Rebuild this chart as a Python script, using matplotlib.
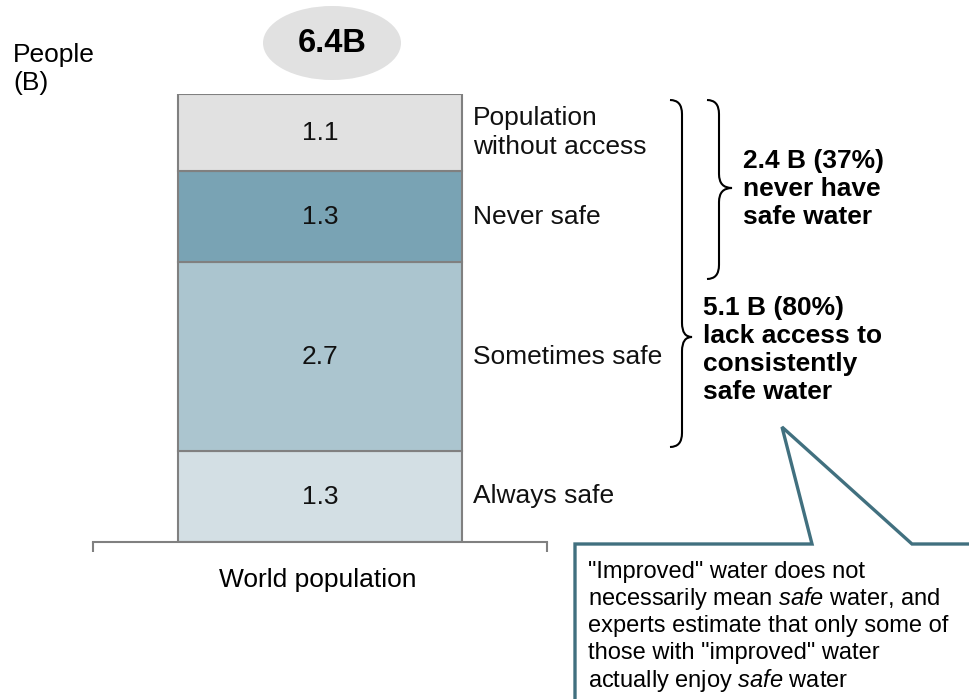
import matplotlib
matplotlib.use("Agg")
import matplotlib.pyplot as plt
from matplotlib.patches import Ellipse, Polygon, PathPatch
from matplotlib.path import Path

plt.rcParams['font.family'] = ['Liberation Sans', 'DejaVu Sans']
plt.rcParams['mathtext.fontset'] = 'custom'
plt.rcParams['mathtext.rm'] = 'Liberation Sans'
plt.rcParams['mathtext.it'] = 'Liberation Sans:italic'

# segments bottom -> top, in billions of people
segments = ["Always safe", "Sometimes safe", "Never safe", "Population\nwithout access"]
values = [1.3, 2.7, 1.3, 1.1]
colors = ["#d3dfe4", "#abc5cf", "#79a3b4", "#e1e1e1"]
total_label = "6.4B"
category = "World population"

W, H = 970, 699
fig = plt.figure(figsize=(W / 100, H / 100), dpi=100)

# main axes for the stacked bar (baseline at y=542px, top of bar at 94px)
ax = fig.add_axes([93 / W, (H - 542) / H, 454 / W, 448 / H])
ax.set_xlim(0, 1)
ax.set_ylim(0, sum(values))
bottom = 0
for lab, v, c in zip(segments, values, colors):
    ax.bar(0.5, v, width=284 / 454, bottom=bottom, color=c, edgecolor="#808080",
           linewidth=1.5, zorder=2)
    ax.text(0.5, bottom + v / 2, f"{v:.1f}", ha="center", va="center", fontsize=19,
            color="#111111", zorder=3)
    # category labels to the right of the bar
    ax.text((473 - 93) / 454, bottom + v / 2, lab, ha="left", va="center",
            fontsize=19, color="#111111", linespacing=1.3, clip_on=False)
    bottom += v
for s in ["top", "left", "right"]:
    ax.spines[s].set_visible(False)
ax.spines["bottom"].set_color("#808080")
ax.spines["bottom"].set_linewidth(1.5)
ax.set_yticks([])
ax.set_xticks([0, 1])
ax.tick_params(axis="x", length=7, width=1.5, color="#808080", labelbottom=False)
ax.patch.set_alpha(0)

# overlay axes in pixel coordinates for annotations
ov = fig.add_axes([0, 0, 1, 1], zorder=5)
ov.set_xlim(0, W)
ov.set_ylim(H, 0)
ov.axis("off")

ov.text(13, 69, "People\n(B)", ha="left", va="center", fontsize=19, linespacing=1.25)
ov.text(318, 580, category, ha="center", va="center", fontsize=19)

ov.add_patch(Ellipse((332, 43), 138, 74, facecolor="#e1e1e1", edgecolor="none"))
ov.text(332, 43, total_label, ha="center", va="center", fontsize=23.5, fontweight="bold")


def brace(x_end, x_spine, x_tip, y_top, y_bot, y_mid, r=14):
    verts = [(x_end, y_top), (x_spine, y_top), (x_spine, y_top + r),
             (x_spine, y_mid - r), (x_spine, y_mid), (x_tip, y_mid),
             (x_spine, y_mid), (x_spine, y_mid + r),
             (x_spine, y_bot - r), (x_spine, y_bot), (x_end, y_bot)]
    codes = [Path.MOVETO, Path.CURVE3, Path.CURVE3,
             Path.LINETO, Path.CURVE3, Path.CURVE3,
             Path.CURVE3, Path.CURVE3,
             Path.LINETO, Path.CURVE3, Path.CURVE3]
    ov.add_patch(PathPatch(Path(verts, codes), facecolor="none", edgecolor="black",
                           linewidth=1.5))


brace(670, 682, 692, 100, 447, 337)
brace(707, 719, 732, 100, 279, 188)

ov.text(743, 189, "2.4 B (37%)\nnever have\nsafe water", ha="left", va="center",
        fontsize=19, fontweight="bold", linespacing=1.22)
ov.text(703, 350, "5.1 B (80%)\nlack access to\nconsistently\nsafe water", ha="left",
        va="center", fontsize=19, fontweight="bold", linespacing=1.22)

# callout box
callout = Polygon([(575, 720), (575, 544), (812, 544), (782, 427), (912, 544),
                   (990, 544), (990, 720)], closed=True, facecolor="white",
                  edgecolor="#41707f", linewidth=2.4)
ov.add_patch(callout)
note_lines = ['"Improved" water does not',
              r'necessarily mean $\it{safe}$ water, and',
              'experts estimate that only some of',
              'those with "improved" water',
              r'actually enjoy $\it{safe}$ water']
for i, line in enumerate(note_lines):
    ov.text(588, 572 + i * 27, line, ha="left", va="center", fontsize=17)

fig.savefig("out.png", dpi=100)
